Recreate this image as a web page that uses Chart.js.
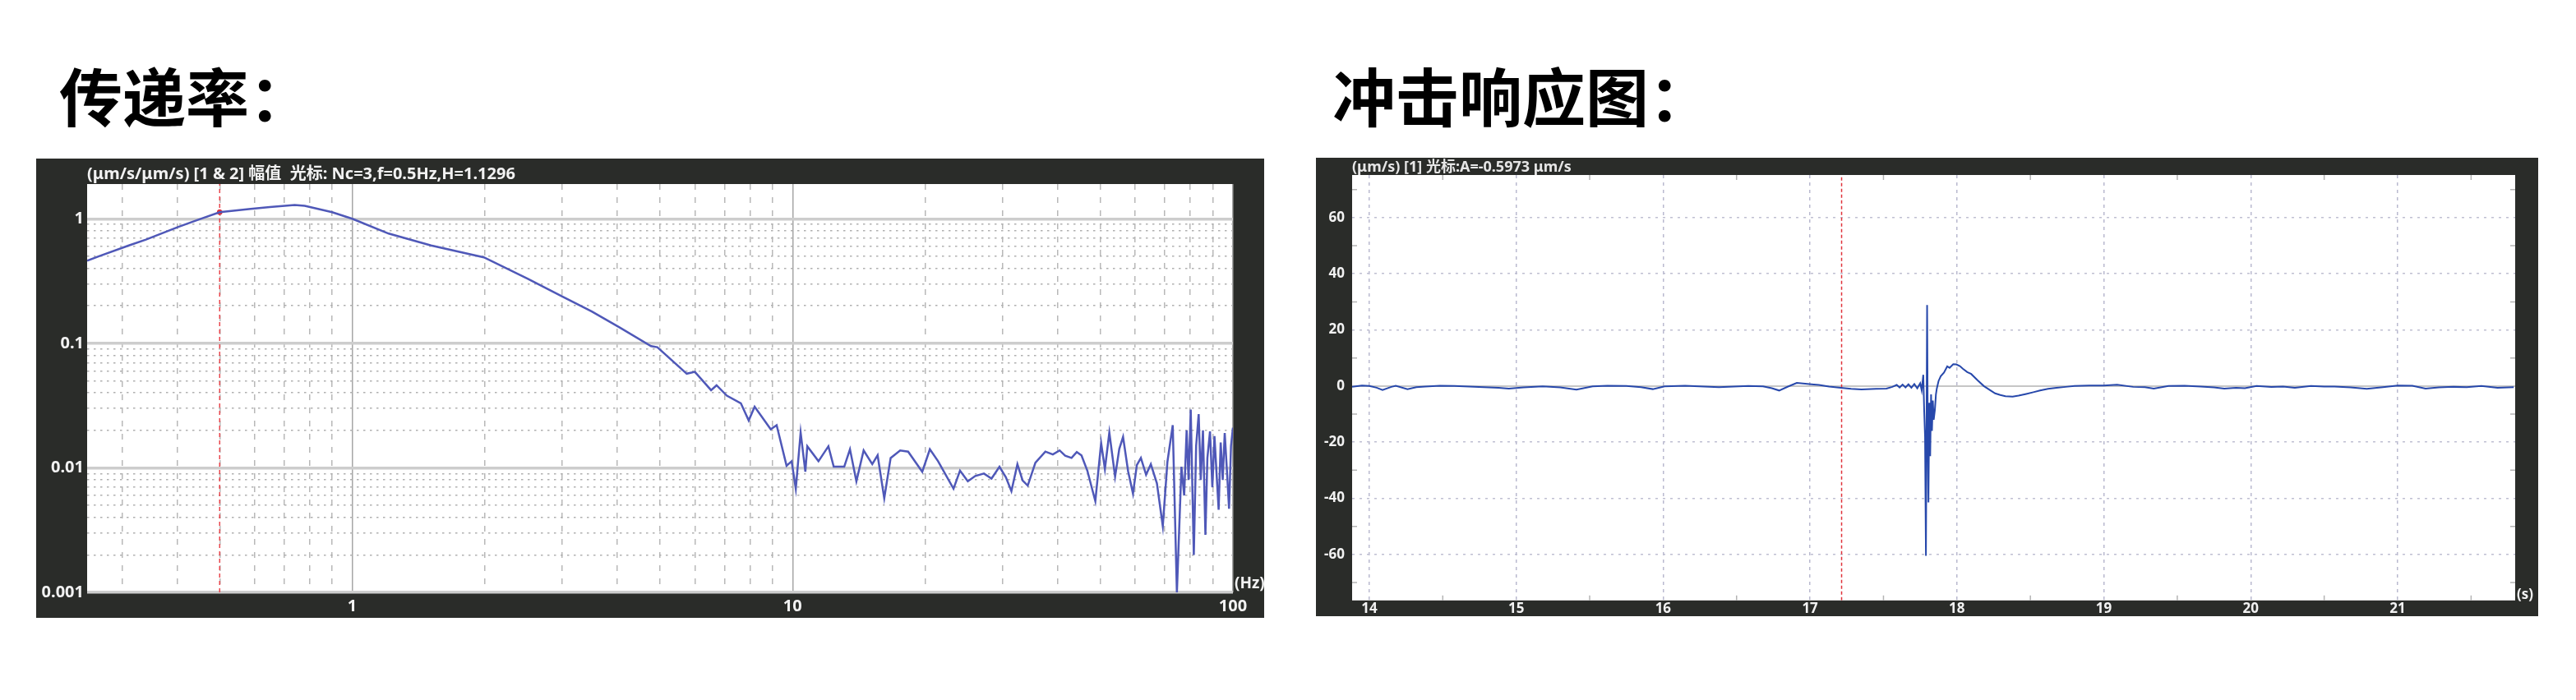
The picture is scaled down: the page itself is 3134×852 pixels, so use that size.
<!DOCTYPE html>
<html>
<head>
<meta charset="utf-8">
<script src="https://cdn.jsdelivr.net/npm/chart.js@4/dist/chart.umd.min.js"></script>
<style>
  html, body { margin: 0; padding: 0; background: #ffffff; }
  body { width: 3134px; height: 852px; position: relative; overflow: hidden; }
  .heading {
    position: absolute;
    font-family: 'Noto Sans CJK SC', sans-serif;
    font-weight: bold;
    font-size: 77px;
    line-height: 77px;
    color: #000000;
    white-space: nowrap;
  }
  canvas { position: absolute; }
</style>
</head>
<body>
<div class="heading" style="left:72px; top:76px;">传递率：</div>
<div class="heading" style="left:1621px; top:76px;">冲击响应图：</div>
<canvas id="transChart" width="1494" height="559" style="left:44px; top:193px;"></canvas>
<canvas id="impulseChart" width="1487" height="558" style="left:1601px; top:192px;"></canvas>
<script>
// ---- transmissibility (log-log) ----
const freqHz = [
  0.25, 0.266, 0.311, 0.34, 0.403, 0.45, 0.5, 0.588, 0.65, 0.74, 0.78, 0.9, 1.0,
  1.21, 1.51, 1.99, 2.5, 2.98, 3.5, 4.05, 4.77, 4.93, 5.75, 6.0, 6.53, 6.72,
  7.09, 7.63, 7.95, 8.2, 8.92, 9.2, 9.69, 9.95, 10.17, 10.43, 10.69, 10.8,
  11.45, 12.06, 12.4, 13.1, 13.5, 13.96, 14.5, 15.17, 15.6, 16.15, 16.7,
  17.55, 18.3, 19.7, 20.5, 21.4, 23.2, 24.0, 25.0, 26.0, 27.2, 28.3, 29.5,
  30.5, 31.4, 32.4, 33.3, 34.2, 35.6, 37.5, 39.0, 40.4, 41.6, 43.0, 44.2,
  45.3, 46.7, 48.7, 50.2, 51.2, 52.4, 54.0, 55.2, 56.3, 57.8, 59.3, 60.5,
  61.8, 63.5, 65.1, 67.2, 69.3, 71.0, 73.0, 74.6, 76.4, 77.5, 78.5, 79.3,
  80.2, 81.5, 82.5, 83.6, 84.5, 85.5, 86.6, 87.5, 88.7, 89.8, 90.8, 91.8,
  92.8, 93.8, 94.8, 95.8, 97.0, 98.0, 99.0, 100
];
const amplitude = [
  0.46, 0.50, 0.61, 0.68, 0.86, 0.99, 1.13, 1.20, 1.24, 1.29, 1.27, 1.13, 1.0,
  0.76, 0.61, 0.49, 0.33, 0.24, 0.18, 0.134, 0.095, 0.093, 0.057, 0.059, 0.042, 0.046,
  0.038, 0.033, 0.024, 0.031, 0.0204, 0.022, 0.0104, 0.0113, 0.0068, 0.0192, 0.0093, 0.0149,
  0.0113, 0.0149, 0.0102, 0.0102, 0.0141, 0.0078, 0.0138, 0.0107, 0.0126, 0.0057, 0.012,
  0.0138, 0.0135, 0.0093, 0.0141, 0.0113, 0.0068, 0.0095, 0.0078, 0.0086, 0.009, 0.0082, 0.0102,
  0.0084, 0.0065, 0.0107, 0.0079, 0.0072, 0.011, 0.0135, 0.0128, 0.0138, 0.0125, 0.012, 0.0134,
  0.0126, 0.0095, 0.0054, 0.0158, 0.0098, 0.0192, 0.0085, 0.0142, 0.0177, 0.0094, 0.0062, 0.0105,
  0.012, 0.0088, 0.0107, 0.0075, 0.0034, 0.0112, 0.022, 0.001, 0.0102, 0.006, 0.02, 0.008,
  0.0293, 0.002, 0.015, 0.027, 0.008, 0.02, 0.0029, 0.012, 0.0196, 0.007, 0.018, 0.009,
  0.0046, 0.016, 0.008, 0.019, 0.009, 0.0047, 0.015, 0.021
];
const freqGridValues = [0.3, 0.4, 0.5, 0.6, 0.7, 0.8, 0.9, 1, 2, 3, 4, 5, 6, 7, 8, 9,
  10, 20, 30, 40, 50, 60, 70, 80, 90, 100];
const freqTickLabels = { 1: '1', 10: '10', 100: '100' };
const ampGridValues = [0.001, 0.002, 0.003, 0.004, 0.005, 0.006, 0.007, 0.008, 0.009,
  0.01, 0.02, 0.03, 0.04, 0.05, 0.06, 0.07, 0.08, 0.09,
  0.1, 0.2, 0.3, 0.4, 0.5, 0.6, 0.7, 0.8, 0.9, 1];
const ampTickLabels = { 0.001: '0.001', 0.01: '0.01', 0.1: '0.1', 1: '1' };
const transCursor = { freq: 0.5, amp: 1.1296 };
const transHeader = '(μm/s/μm/s) [1 & 2] 幅值  光标: Nc=3,f=0.5Hz,H=1.1296';

// ---- impulse response ----
const timeSec = [
  13.883, 13.95, 14.0, 14.05, 14.09, 14.15, 14.18, 14.26, 14.32, 14.38, 14.48, 14.58,
  14.68, 14.78, 14.88, 14.95, 15.05, 15.18, 15.3, 15.41, 15.52, 15.62, 15.75, 15.85,
  15.93, 16.01, 16.15, 16.28, 16.38, 16.48, 16.58, 16.68, 16.74, 16.79, 16.85, 16.91,
  17.01, 17.06, 17.13, 17.21, 17.28, 17.35, 17.45, 17.52, 17.56, 17.59, 17.61, 17.63,
  17.65, 17.67, 17.69, 17.71, 17.73, 17.75, 17.76, 17.771, 17.777, 17.783, 17.789, 17.797,
  17.802, 17.806, 17.812, 17.818, 17.824, 17.83, 17.836, 17.842, 17.85, 17.857, 17.863, 17.875,
  17.89, 17.912, 17.934, 17.95, 17.975, 17.996, 18.02, 18.04, 18.07, 18.097, 18.14, 18.183,
  18.23, 18.26, 18.295, 18.33, 18.379, 18.42, 18.472, 18.52, 18.566, 18.62, 18.678, 18.74,
  18.8, 18.9, 19.0, 19.09, 19.2, 19.28, 19.34, 19.44, 19.55, 19.66, 19.75, 19.82,
  19.9, 19.96, 20.04, 20.14, 20.22, 20.3, 20.41, 20.5, 20.57, 20.68, 20.79, 20.9,
  21.0, 21.1, 21.19, 21.28, 21.38, 21.47, 21.57, 21.68, 21.79
];
const velocity = [
  -0.3, 0.2, 0.0, -0.6, -1.4, -0.3, 0.1, -1.1, -0.4, -0.2, 0.1, 0.0,
  -0.2, -0.4, -0.6, -0.9, -0.5, -0.1, -0.5, -1.3, -0.1, 0.1, 0.0, -0.4,
  -1.1, -0.1, 0.1, -0.2, -0.4, -0.2, 0.0, -0.1, -0.8, -1.6, -0.2, 1.1,
  0.65, 0.4, -0.2, -0.65, -1.0, -1.2, -1.0, -0.9, -0.3, 0.4, -0.5, 0.5,
  -0.5, 0.6, -0.6, 0.7, -0.8, 1.0, -1.5, 4.0, -8.5, -18, -60.5, 28.9,
  -20, -41.5, -6, -25, -3, -16, -5.2, -12, -8.5, -3, -0.9, 1.8,
  3.5, 4.8, 7.0, 6.5, 7.8, 7.7, 7.1, 6.2, 5.0, 4.3, 2.1, 0.0,
  -1.6, -2.6, -3.2, -3.6, -3.8, -3.4, -2.8, -2.2, -1.6, -1.0, -0.6, -0.3,
  0.0, 0.2, 0.2, 0.5, -0.3, -0.4, -0.9, 0.0, 0.1, -0.2, -0.5, -0.9,
  -0.6, -0.8, 0.0, -0.3, -0.2, -0.6, 0.0, -0.2, -0.2, -0.5, -1.0, -0.4,
  0.2, 0.1, -0.9, -0.5, -0.3, -0.4, 0.0, -0.6, -0.4
];
const timeGridValues = [14, 15, 16, 17, 18, 19, 20, 21];
const timeMinorValues = [14.5, 15.5, 16.5, 17.5, 18.5, 19.5, 20.5, 21.5];
const velGridValues = [-60, -40, -20, 0, 20, 40, 60];
const velMinorValues = [-70, -50, -30, -10, 10, 30, 50, 70];
const impulseCursor = { time: 17.215 };
const impulseHeader = '(μm/s) [1] 光标:A=-0.5973 μm/s';

const FRAME = '#2a2c29';
const LABEL = '#f2f2f2';
const SANS = "'Noto Sans', 'Noto Sans CJK SC', sans-serif";

// dark frame with white plotting area
const panelBackground = {
  id: 'panelBackground',
  beforeDraw(chart) {
    const { ctx, chartArea: a, width, height } = chart;
    ctx.save();
    ctx.fillStyle = FRAME;
    ctx.fillRect(0, 0, width, height);
    ctx.fillStyle = '#ffffff';
    ctx.fillRect(a.left, a.top, a.right - a.left, a.bottom - a.top);
    ctx.restore();
  }
};

// unit text at the lower right corner, e.g. (Hz)
const unitLabel = {
  id: 'unitLabel',
  afterDraw(chart, args, opts) {
    const { ctx, chartArea: a } = chart;
    ctx.save();
    ctx.font = opts.font;
    ctx.fillStyle = LABEL;
    ctx.textAlign = 'left';
    ctx.textBaseline = 'middle';
    ctx.fillText(opts.text, a.right + opts.dx, a.bottom + opts.dy);
    ctx.restore();
  }
};

// short minor marks along the plot edges
const edgeTicks = {
  id: 'edgeTicks',
  afterDatasetsDraw(chart, args, opts) {
    const { ctx, chartArea: a, scales } = chart;
    ctx.save();
    ctx.strokeStyle = '#b4b4b4';
    ctx.lineWidth = 1.5;
    ctx.beginPath();
    opts.xValues.forEach(v => {
      const px = scales.x.getPixelForValue(v);
      ctx.moveTo(px, a.top); ctx.lineTo(px, a.top + 6);
      ctx.moveTo(px, a.bottom); ctx.lineTo(px, a.bottom - 6);
    });
    opts.yValues.forEach(v => {
      const py = scales.y.getPixelForValue(v);
      ctx.moveTo(a.left, py); ctx.lineTo(a.left + 6, py);
      ctx.moveTo(a.right, py); ctx.lineTo(a.right - 6, py);
    });
    ctx.stroke();
    ctx.restore();
  }
};

const isDecade = v => Math.abs(Math.log10(v) - Math.round(Math.log10(v))) < 1e-6;

new Chart(document.getElementById('transChart'), {
  type: 'line',
  data: {
    datasets: [
      {
        data: freqHz.map((f, i) => ({ x: f, y: amplitude[i] })),
        borderColor: '#4f58b8',
        borderWidth: 2.5,
        pointRadius: 0,
        tension: 0,
      },
      {
        data: [{ x: transCursor.freq, y: transCursor.amp }],
        borderColor: '#e0303a',
        backgroundColor: '#e0303a',
        pointRadius: 3,
        showLine: false,
      },
      {
        data: [{ x: transCursor.freq, y: 0.001 }, { x: transCursor.freq, y: 1.9 }],
        borderColor: '#e8454c',
        borderWidth: 1.5,
        borderDash: [5, 4],
        pointRadius: 0,
      },
    ],
  },
  options: {
    responsive: false,
    animation: false,
    events: [],
    layout: { padding: { right: 38 } },
    plugins: {
      legend: { display: false },
      tooltip: { enabled: false },
      title: {
        display: true,
        text: transHeader,
        align: 'start',
        fullSize: false,
        color: LABEL,
        font: { family: SANS, size: 20, lineHeight: 1.2 },
        padding: { top: 7, bottom: 0 },
      },
      unitLabel: { text: '(Hz)', font: 'bold 19px ' + SANS, dx: 2, dy: -10 },
    },
    scales: {
      x: {
        type: 'logarithmic',
        min: 0.25,
        max: 100,
        afterBuildTicks: scale => { scale.ticks = freqGridValues.map(v => ({ value: v })); },
        afterFit: scale => { scale.height = 31; },
        ticks: {
          autoSkip: false,
          maxRotation: 0,
          padding: 5,
          color: LABEL,
          font: { family: SANS, size: 20, weight: 'bold' },
          callback: value => freqTickLabels[value] || '',
        },
        grid: {
          drawTicks: false,
          color: ctx => isDecade(ctx.tick.value) ? '#a6a6a6' : '#b8b8b8',
          lineWidth: 1.5,
        },
        border: {
          display: false,
          dash: ctx => isDecade(ctx.tick.value) ? [] : [7, 9],
        },
      },
      y: {
        type: 'logarithmic',
        min: 0.001,
        max: 1.9,
        afterBuildTicks: scale => { scale.ticks = ampGridValues.map(v => ({ value: v })); },
        afterFit: scale => { scale.width = 62; },
        ticks: {
          autoSkip: false,
          padding: 4,
          color: LABEL,
          font: { family: SANS, size: 20, weight: 'bold' },
          callback: value => ampTickLabels[value] || '',
        },
        grid: {
          drawTicks: false,
          color: ctx => isDecade(ctx.tick.value) ? '#cdcdcd' : '#b0b0b0',
          lineWidth: ctx => isDecade(ctx.tick.value) ? 3.5 : 1.5,
        },
        border: {
          display: false,
          dash: ctx => isDecade(ctx.tick.value) ? [] : [2.5, 5.5],
        },
      },
    },
  },
  plugins: [panelBackground, unitLabel],
});

new Chart(document.getElementById('impulseChart'), {
  type: 'line',
  data: {
    datasets: [
      {
        data: timeSec.map((t, i) => ({ x: t, y: velocity[i] })),
        borderColor: '#2748ab',
        borderWidth: 2,
        pointRadius: 0,
        tension: 0,
      },
      {
        data: [{ x: impulseCursor.time, y: -76.4 }, { x: impulseCursor.time, y: 75.2 }],
        borderColor: '#e0323a',
        borderWidth: 1.5,
        borderDash: [4, 3],
        pointRadius: 0,
      },
    ],
  },
  options: {
    responsive: false,
    animation: false,
    events: [],
    layout: { padding: { right: 28 } },
    plugins: {
      legend: { display: false },
      tooltip: { enabled: false },
      title: {
        display: true,
        text: impulseHeader,
        align: 'start',
        fullSize: false,
        color: '#e6e6e6',
        font: { family: SANS, size: 18, lineHeight: 1 },
        padding: { top: 3, bottom: 0 },
      },
      unitLabel: { text: '(s)', font: 'bold 17px ' + SANS, dx: 2, dy: -7 },
      edgeTicks: { xValues: timeMinorValues, yValues: velMinorValues },
    },
    scales: {
      x: {
        type: 'linear',
        min: 13.883,
        max: 21.8,
        afterBuildTicks: scale => { scale.ticks = timeGridValues.map(v => ({ value: v })); },
        afterFit: scale => { scale.height = 19; },
        ticks: {
          autoSkip: false,
          maxRotation: 0,
          padding: 2,
          color: LABEL,
          font: { family: SANS, size: 17, weight: 'bold', lineHeight: 1 },
        },
        grid: { drawTicks: false, color: '#b9b9cf', lineWidth: 1.5 },
        border: { display: false, dash: [4, 5] },
      },
      y: {
        type: 'linear',
        min: -76.4,
        max: 75.2,
        afterBuildTicks: scale => { scale.ticks = velGridValues.map(v => ({ value: v })); },
        afterFit: scale => { scale.width = 44; },
        ticks: {
          autoSkip: false,
          padding: 9,
          color: LABEL,
          font: { family: SANS, size: 17, weight: 'bold' },
        },
        grid: {
          drawTicks: false,
          color: ctx => ctx.tick.value === 0 ? '#c6c6c6' : '#bfbfd2',
          lineWidth: ctx => ctx.tick.value === 0 ? 2 : 1.5,
        },
        border: {
          display: false,
          dash: ctx => ctx.tick.value === 0 ? [] : [3, 6],
        },
      },
    },
  },
  plugins: [panelBackground, unitLabel, edgeTicks],
});
</script>
</body>
</html>
